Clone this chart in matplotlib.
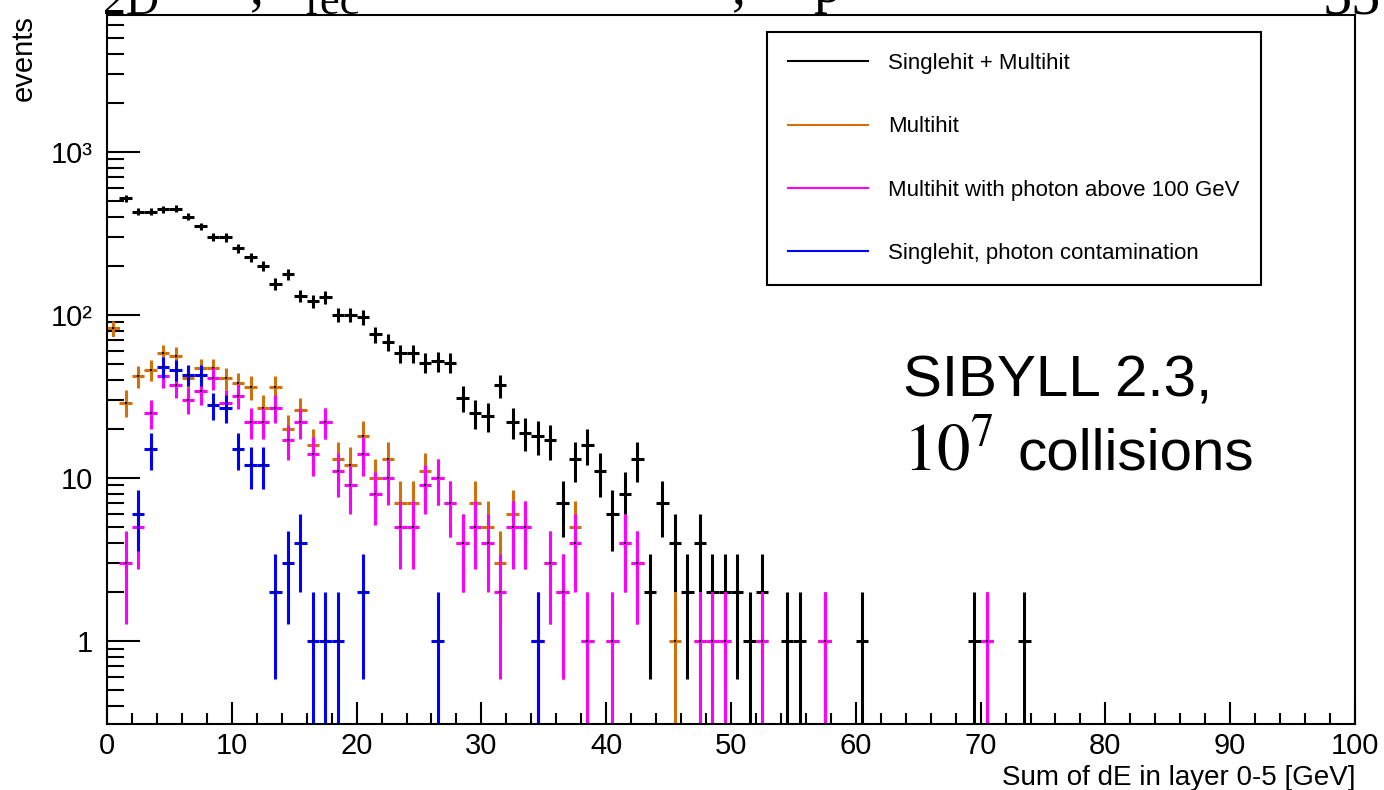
import numpy as np
import matplotlib.pyplot as plt
from matplotlib.lines import Line2D
from matplotlib.ticker import FixedLocator, NullFormatter

plt.rcParams['font.family'] = ['Liberation Sans', 'DejaVu Sans']

# bin contents, 1 GeV bins starting at 0 GeV
allhits = [83, 518, 430, 430, 445, 449, 400, 349, 302, 299,
           256, 226, 199, 155, 177, 131, 122, 128, 100, 100,
           97, 76, 68, 58, 58, 51, 52, 51, 31, 25,
           24, 37, 22, 19, 18, 17, 7, 13, 16, 11,
           6, 8, 13, 2, 7, 4, 2, 4, 2, 2,
           2, 1, 2, 0, 1, 1, 0, 1, 0, 0,
           1, 0, 0, 0, 0, 0, 0, 0, 0, 1,
           1, 0, 0, 1]
multihit = [83, 29, 42, 46, 58, 56, 41, 47, 47, 41,
            38, 36, 27, 36, 20, 26, 16, 22, 13, 12,
            18, 10, 13, 7, 7, 11, 10, 7, 4, 7,
            5, 3, 6, 5, 1, 3, 2, 5, 1, 0,
            1, 4, 3, 0, 0, 1, 0, 1, 1, 1,
            0, 0, 1, 0, 0, 0, 0, 1, 0, 0,
            0, 0, 0, 0, 0, 0, 0, 0, 0, 0,
            1, 0, 0, 0]
photon = [0, 3, 5, 25, 42, 37, 30, 34, 41, 29,
          32, 22, 22, 27, 17, 22, 14, 22, 11, 9,
          14, 8, 10, 5, 5, 9, 10, 7, 4, 5,
          4, 2, 5, 5, 1, 3, 2, 4, 1, 0,
          1, 4, 3, 0, 0, 0, 0, 1, 1, 1,
          0, 0, 1, 0, 0, 0, 0, 1, 0, 0,
          0, 0, 0, 0, 0, 0, 0, 0, 0, 0,
          1, 0, 0, 0]
contam = [0, 0, 6, 15, 48, 46, 43, 43, 28, 27,
          15, 12, 12, 2, 3, 4, 1, 1, 1, 0,
          2, 0, 0, 0, 0, 0, 1, 0, 0, 0,
          0, 0, 0, 0, 1]

labels = ["Singlehit + Multihit", "Multihit",
          "Multihit with photon above 100 GeV",
          "Singlehit, photon contamination"]
colors = ["black", "#d2700a", "#ff00ff", "#0000ff"]

fig = plt.figure(figsize=(13.84, 7.90), dpi=100)
ax = fig.add_axes([107/1384, 1-724/790, (1355-107)/1384, (724-15)/790])
ax.set_yscale('log')


def draw(counts, color):
    n = np.array(counts, dtype=float)
    x = np.arange(len(n)) + 0.5
    m = n > 0
    ax.errorbar(x[m], n[m], xerr=0.5, yerr=np.sqrt(n[m]), fmt='none',
                ecolor=color, elinewidth=2.2)
    ax.plot(x[m], n[m], 's', ms=1.6, color='black', mew=0)


for counts, c in zip([allhits, multihit, photon, contam], colors):
    draw(counts, c)

ax.set_xlim(0, 100)
ax.set_ylim(0.31, 6900)

# ticks, ROOT style
ax.xaxis.set_major_locator(FixedLocator(np.arange(0, 101, 10)))
ax.xaxis.set_minor_locator(FixedLocator(np.arange(0, 101, 2)))
ax.yaxis.set_major_locator(FixedLocator([1, 10, 100, 1000]))
ax.set_yticklabels(["1", "10", "10\u00b2", "10\u00b3"])
ax.yaxis.set_minor_locator(FixedLocator([k * 10.0**d for d in range(-1, 4) for k in range(2, 10)]))
ax.yaxis.set_minor_formatter(NullFormatter())
ax.tick_params(axis='both', which='both', direction='in', width=1.5,
               top=False, right=False, labelsize=21)
ax.tick_params(axis='x', which='major', length=16, pad=6)
ax.tick_params(axis='x', which='minor', length=8)
ax.tick_params(axis='y', which='major', length=24, pad=10)
ax.tick_params(axis='y', which='minor', length=12)
for s in ax.spines.values():
    s.set_linewidth(1.5)

fig.text(1355/1384, 1-785/790, "Sum of dE in layer 0-5 [GeV]", ha='right',
         va='baseline', fontsize=20)
fig.text(38/1384, 1-15/790, "events", rotation=90, ha='right', va='top',
         fontsize=21)

handles = [Line2D([], [], color=c, lw=1.5) for c in colors]
leg = ax.legend(handles, labels, loc='upper left',
                bbox_to_anchor=(767/1384, 1-32/790), bbox_transform=fig.transFigure,
                borderaxespad=0, fontsize=16, fancybox=False, framealpha=1,
                edgecolor='black', borderpad=0.95, labelspacing=1.9,
                handlelength=3.6, handletextpad=0.9)
leg.get_frame().set_linewidth(1.5)

fig.text(903/1384, 1-397/790, "SIBYLL 2.3,", fontsize=42, va='baseline')
fig.text(903/1384, 1-470/790, "$10^7$", fontsize=48, va='baseline',
         math_fontfamily='stix')
fig.text(1017/1384, 1-470/790, "collisions", fontsize=42, va='baseline')

# title, cut by the top edge of the canvas
for txt, px, py, fs in [("2D", 103, 14, 33), (",", 250, 3, 40), ("rec", 305, 14, 32),
                        (",", 732, 3, 40), ("p", 813, 2, 40), ("55", 1322, 13, 42)]:
    fig.text(px/1384, 1-py/790, txt, fontsize=fs, va='baseline',
             family=['Liberation Serif', 'DejaVu Serif'])

fig.savefig("out.png", dpi=100)
